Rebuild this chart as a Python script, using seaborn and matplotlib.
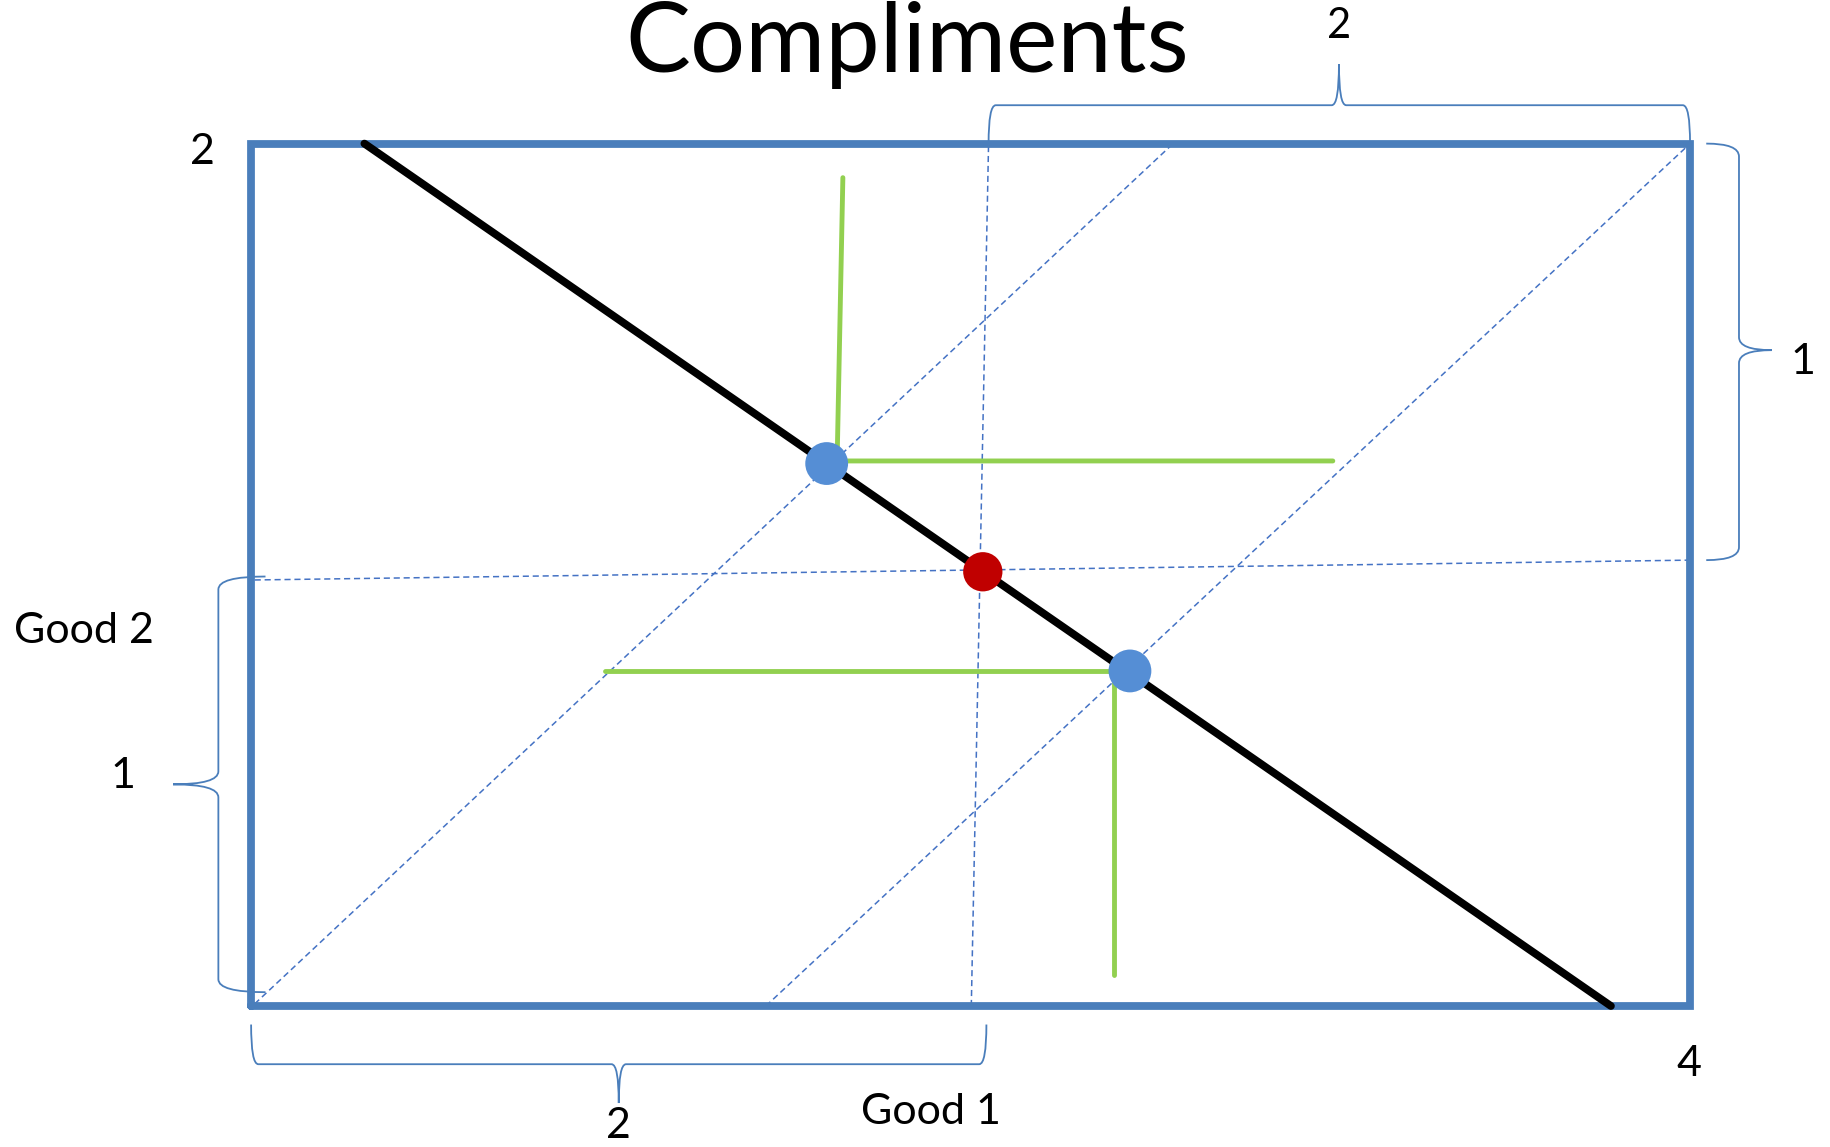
import matplotlib
matplotlib.use("Agg")
import matplotlib.pyplot as plt
from matplotlib.path import Path
from matplotlib.patches import PathPatch
import seaborn as sns

# Box (Good 1 = 4 units wide, Good 2 = 2 units tall)
box_x = [0, 4, 4, 0, 0]
box_y = [0, 0, 2, 2, 0]

# Budget / contract line
budget_x = [0.315, 3.78]
budget_y = [2.0, 0.0]

# Optimal bundles (blue) and the midpoint (red)
bundle_x = [1.60, 2.443]
bundle_y = [1.258, 0.777]
mid_x = [2.034]
mid_y = [1.007]

# L-shaped indifference curves
indiff1_x = [1.645, 1.629, 3.007]
indiff1_y = [1.921, 1.264, 1.264]
indiff2_x = [0.983, 2.40, 2.40]
indiff2_y = [0.777, 0.777, 0.073]

# dashed guide lines
ray_a_x = [0.01, 2.563]
ray_a_y = [0.005, 2.0]
ray_b_x = [1.431, 4.0]
ray_b_y = [0.0, 2.0]
vguide_x = [2.002, 2.05]
vguide_y = [0.0, 2.0]
hguide_x = [0.01, 4.0]
hguide_y = [0.988, 1.034]

BLUE = "#4A7EBB"
FONT = ["Lato", "DejaVu Sans"]

sns.set_theme(style="white")
plt.rcParams["font.family"] = FONT
plt.rcParams["text.color"] = "black"

fig = plt.figure(figsize=(18.3, 11.47), dpi=100)
ax = fig.add_axes([0, 0, 1, 1])
ax.set_xlim(-0.698, 4.389)
ax.set_ylim(-0.327, 2.333)
ax.axis("off")


def brace(ax, a, b, base, line, tip, mid, r, vertical=False):
    # curly brace between a and b along one axis, bulging towards tip
    s = 1 if b > a else -1
    pts = [(a, base), (a, line), (a + s * r, line),
           (mid - s * r, line), (mid, line), (mid, tip),
           (mid, line), (mid + s * r, line),
           (b - s * r, line), (b, line), (b, base)]
    codes = [Path.MOVETO, Path.CURVE3, Path.CURVE3,
             Path.LINETO, Path.CURVE3, Path.CURVE3,
             Path.CURVE3, Path.CURVE3,
             Path.LINETO, Path.CURVE3, Path.CURVE3]
    if vertical:
        pts = [(y, x) for x, y in pts]
    ax.add_patch(PathPatch(Path(pts, codes), fill=False, ec=BLUE, lw=1.3))


# guides
for gx, gy in [(ray_a_x, ray_a_y), (ray_b_x, ray_b_y), (vguide_x, vguide_y), (hguide_x, hguide_y)]:
    ax.plot(gx, gy, color="#4472C4", lw=1.1, ls=(0, (4, 2.5)))

# box
ax.plot(box_x, box_y, color=BLUE, lw=5.6, solid_joinstyle="miter")

# indifference curves
ax.plot(indiff1_x, indiff1_y, color="#92D050", lw=3.5)
ax.plot(indiff2_x, indiff2_y, color="#92D050", lw=3.5)

# budget line
ax.plot(budget_x, budget_y, color="black", lw=5.6)

sns.scatterplot(x=bundle_x, y=bundle_y, color="#558ED5", s=950, edgecolor="none", ax=ax, zorder=5)
sns.scatterplot(x=mid_x, y=mid_y, color="#C00000", s=800, edgecolor="none", ax=ax, zorder=4)

# braces
brace(ax, 2.05, 4.0, 2.0, 2.089, 2.184, 3.024, 0.02)
brace(ax, 0.0, 2.044, -0.043, -0.135, -0.225, 1.022, 0.02)
brace(ax, 2.0, 1.034, 4.045, 4.136, 4.227, 1.521, 0.03, vertical=True)
brace(ax, 0.996, 0.032, 0.04, -0.091, -0.217, 0.514, 0.03, vertical=True)

# labels
ax.text(1.823, 2.228, "Compliments", fontsize=70, ha="center", va="center")
ax.text(3.024, 2.272, "2", fontsize=30, ha="center", va="center")
ax.text(4.315, 1.494, "1", fontsize=31, ha="center", va="center")
ax.text(-0.357, 0.533, "1", fontsize=31, ha="center", va="center")
ax.text(1.022, -0.279, "2", fontsize=31, ha="center", va="center")
ax.text(-0.136, 1.98, "2", fontsize=31, ha="center", va="center")
ax.text(3.997, -0.135, "4", fontsize=31, ha="center", va="center")
ax.text(-0.464, 0.869, "Good 2", fontsize=31, ha="center", va="center")
ax.text(1.891, -0.246, "Good 1", fontsize=31, ha="center", va="center")

fig.savefig("out.png", dpi=100)
